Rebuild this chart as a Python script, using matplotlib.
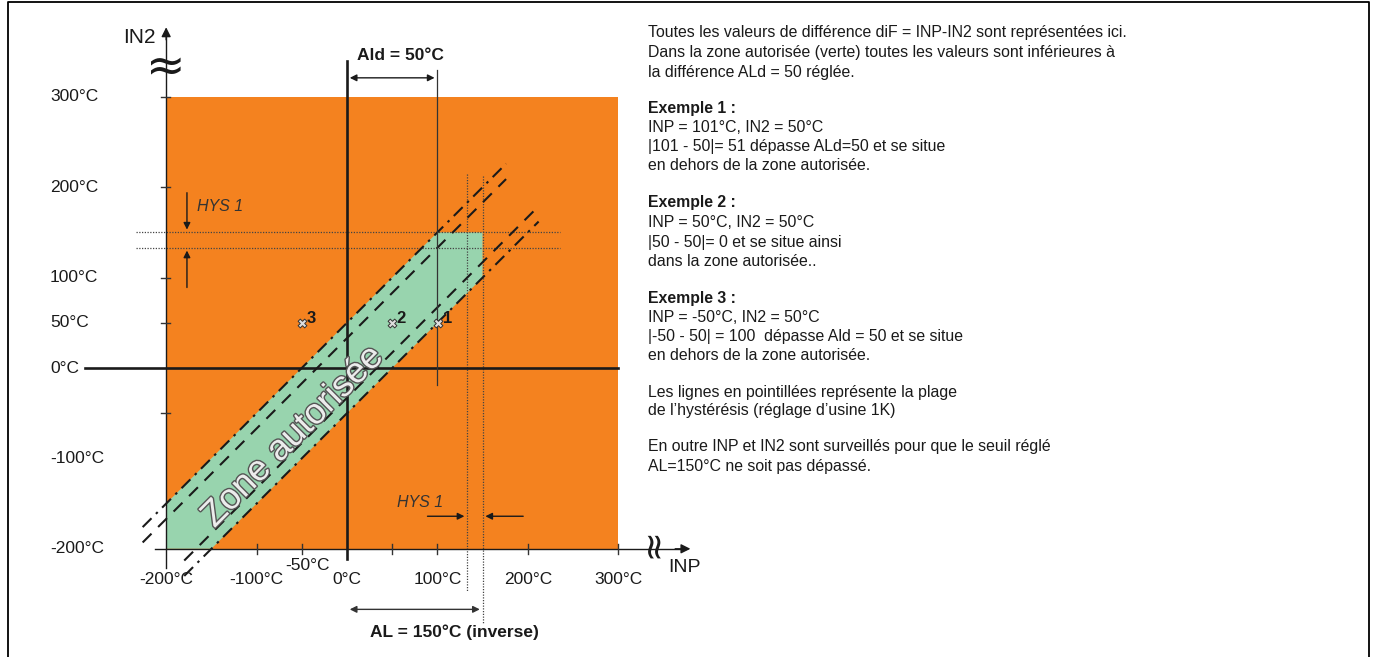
import numpy as np
import matplotlib
matplotlib.use("Agg")
from matplotlib import pyplot as plt
from matplotlib import patheffects as pe
from matplotlib.lines import Line2D

plt.rcParams['font.family'] = ['Liberation Sans', 'DejaVu Sans']

# values (degC)
lo, hi = -200, 300
ald = 50          # allowed difference
al = 150          # limit AL
hys = 17          # hysteresis drawn width
yticks = [300, 200, 100, 50, -50]
ylabels = [300, 200, 100, 50, 0, -100, -200]
xticks = [-100, -50, 50, 100, 200, 300]
xlabels = [-200, -100, 0, 100, 200, 300]
pts_inp = [101, 50, -50]
pts_in2 = [50, 50, 50]
pts_name = ["1", "2", "3"]

orange = '#F4821F'
green = '#98D4AE'
dark = '#1a1a1a'

fig = plt.figure(figsize=(13.77, 6.57), dpi=100)
ax = fig.add_axes([0, 0, 1, 1])
ax.set_xlim(-383.8, 1139.4)
ax.set_ylim(-319.7, 407.1)
ax.axis('off')

# orange square
ax.fill([lo, hi, hi, lo], [lo, lo, hi, hi], color=orange, lw=0, zorder=1)
# allowed band |INP-IN2| <= ald, clipped by AL
gx = [lo, lo + ald, al, al, al - ald, lo]
gy = [lo, lo, al - ald, al, al, lo + ald]
ax.fill(gx, gy, color=green, lw=0, zorder=2)

# band edges (dash-dot) and hysteresis lines (dashed)
xu = np.array([-226, 176])
xl = np.array([-180, 212])
ax.plot(xu, xu + ald, color=dark, lw=1.5, dashes=(6, 3, 1.2, 3), zorder=4)
ax.plot(xu, xu + ald - hys, color=dark, lw=1.5, dashes=(6, 4.5), zorder=4)
ax.plot(xl, xl - ald, color=dark, lw=1.5, dashes=(6, 3, 1.2, 3), zorder=4)
ax.plot(xl, xl - ald + hys, color=dark, lw=1.5, dashes=(6, 4.5), zorder=4)

# hysteresis dotted lines
for yy in [al, al - hys]:
    ax.plot([-233, 236], [yy, yy], color='#444', lw=0.9, ls=(0, (1, 1.2)), zorder=3)
ax.plot([al - hys, al - hys], [215, -248], color='#444', lw=0.9, ls=(0, (1, 1.2)), zorder=3)
ax.plot([al, al], [212, -283], color='#444', lw=0.9, ls=(0, (1, 1.2)), zorder=3)

# axes lines
ax.plot([lo, lo], [-221, 372], color=dark, lw=1.0, zorder=5)
ax.annotate('', xy=(lo, 380), xytext=(lo, 360),
            arrowprops=dict(arrowstyle='-|>', color=dark, lw=1.0, mutation_scale=14), zorder=5)
ax.plot([-212, 375], [lo, lo], color=dark, lw=1.0, zorder=5)
ax.annotate('', xy=(383, lo), xytext=(360, lo),
            arrowprops=dict(arrowstyle='-|>', color=dark, lw=1.0, mutation_scale=14), zorder=5)
ax.plot([0, 0], [340, -211], color=dark, lw=1.9, zorder=5)
ax.plot([-290, hi], [0, 0], color=dark, lw=1.9, zorder=5)
ax.plot([100, 100], [330, -19], color='#333', lw=0.9, zorder=5)

# break marks
ax.text(lo, 331, '≈', fontsize=34, family='DejaVu Sans', ha='center', va='center', color=dark, zorder=6)
ax.text(332, lo, '≈', fontsize=26, family='DejaVu Sans', ha='center', va='center', color=dark,
        rotation=-90, zorder=6)

# ticks
for t in yticks:
    ax.plot([lo - 6, lo + 4], [t, t], color='#333', lw=1.0, zorder=5)
for t in xticks:
    ax.plot([t, t], [lo - 5.5, lo + 5.5], color='#333', lw=1.0, zorder=5)

# tick labels
for v in ylabels:
    ax.text(-328.5, v, '{}°C'.format(v), fontsize=12.5, ha='left', va='center', color=dark)
for v in xlabels:
    ax.text(v, -234.5, '{}°C'.format(v), fontsize=12.5, ha='center', va='center', color=dark)
ax.text(-44, -218, '-50°C', fontsize=12.5, ha='center', va='center', color=dark)

ax.text(-230, 366, 'IN2', fontsize=15, ha='center', va='center', color=dark)
ax.text(373, -221, 'INP', fontsize=14, ha='center', va='center', color=dark)

# Ald annotation
ax.annotate('', xy=(100, 321), xytext=(0, 321),
            arrowprops=dict(arrowstyle='<|-|>', color=dark, lw=1.0, mutation_scale=10))
ax.text(59, 346, 'Ald = 50°C', fontsize=12.5, weight='bold', ha='center', va='center', color=dark)

# AL annotation
ax.annotate('', xy=(al, -267), xytext=(0, -267),
            arrowprops=dict(arrowstyle='<|-|>', color='#333', lw=1.0, mutation_scale=10))
ax.text(119, -292, 'AL = 150°C (inverse)', fontsize=12.5, weight='bold', ha='center', va='center', color=dark)

# HYS arrows
ax.annotate('', xy=(-177, al), xytext=(-177, 197),
            arrowprops=dict(arrowstyle='-|>', color=dark, lw=1.0, mutation_scale=10))
ax.annotate('', xy=(-177, al - hys), xytext=(-177, 86),
            arrowprops=dict(arrowstyle='-|>', color=dark, lw=1.0, mutation_scale=10))
ax.text(-166, 179, 'HYS 1', fontsize=11.5, style='italic', ha='left', va='center', color='#333')
ax.annotate('', xy=(al - hys, -164), xytext=(86, -164),
            arrowprops=dict(arrowstyle='-|>', color=dark, lw=1.0, mutation_scale=10))
ax.annotate('', xy=(al, -164), xytext=(198, -164),
            arrowprops=dict(arrowstyle='-|>', color=dark, lw=1.0, mutation_scale=10))
ax.text(55, -149, 'HYS 1', fontsize=11.5, style='italic', ha='left', va='center', color='#333')

# example points
ax.scatter(pts_inp, pts_in2, marker='X', s=40, facecolor='#dddddd', edgecolor='#333', lw=0.7, zorder=7)
for x, y, n in zip(pts_inp, pts_in2, pts_name):
    ax.text(x + 5, y + 5, n, fontsize=12, weight='bold', ha='left', va='center', color=dark, zorder=7)

# zone label
ax.text(-60, -76, 'Zone autorisée', fontsize=26, rotation=45, rotation_mode='anchor',
        ha='center', va='center', color='#ececec', zorder=6,
        path_effects=[pe.withStroke(linewidth=2.0, foreground='#555555')])

# explanatory text on the right
lines = [
    (33, "Toutes les valeurs de différence diF = INP-IN2 sont représentées ici.", 'normal'),
    (53, "Dans la zone autorisée (verte) toutes les valeurs sont inférieures à", 'normal'),
    (72, "la différence ALd = 50 réglée.", 'normal'),
    (108, "Exemple 1 :", 'bold'),
    (128, "INP = 101°C, IN2 = 50°C", 'normal'),
    (147, "|101 - 50|= 51 dépasse ALd=50 et se situe", 'normal'),
    (166, "en dehors de la zone autorisée.", 'normal'),
    (203, "Exemple 2 :", 'bold'),
    (223, "INP = 50°C, IN2 = 50°C", 'normal'),
    (242, "|50 - 50|= 0 et se situe ainsi", 'normal'),
    (261, "dans la zone autorisée..", 'normal'),
    (298, "Exemple 3 :", 'bold'),
    (317, "INP = -50°C, IN2 = 50°C", 'normal'),
    (336, "|-50 - 50| = 100  dépasse Ald = 50 et se situe", 'normal'),
    (355, "en dehors de la zone autorisée.", 'normal'),
    (392, "Les lignes en pointillées représente la plage", 'normal'),
    (411, "de l\u2019hystérésis (réglage d\u2019usine 1K)", 'normal'),
    (447, "En outre INP et IN2 sont surveillés pour que le seuil réglé", 'normal'),
    (466, "AL=150°C ne soit pas dépassé.", 'normal'),
]
for py, s, w in lines:
    fig.text(648 / 1377, 1 - py / 657, s, fontsize=11.4, weight=w, ha='left', va='center', color=dark)

# frame around the figure
W, H = 1377, 657
fig.add_artist(Line2D([8 / W, 8 / W, 1369 / W, 1369 / W], [0, 1 - 2 / H, 1 - 2 / H, 0],
                      transform=fig.transFigure, color='black', lw=1.3))

fig.savefig('out.png', dpi=100)
